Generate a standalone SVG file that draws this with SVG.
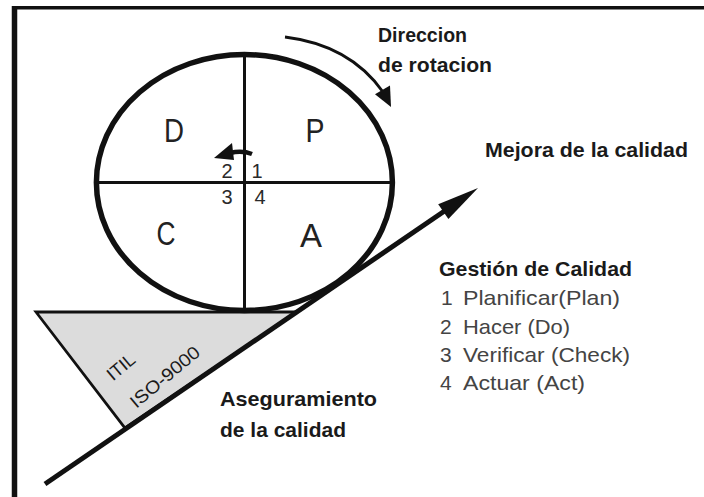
<svg xmlns="http://www.w3.org/2000/svg" width="704" height="497" viewBox="0 0 704 497">
  <style>
    .t { font-family: "Liberation Sans", Arial, sans-serif; fill: #1a1a1a; }
    .b { font-weight: bold; }
    .big { font-size: 33px; text-anchor: middle; fill: #222; }
    .num { font-size: 20px; text-anchor: middle; fill: #2a2a2a; }
    .lab { font-size: 21px; }
    .list { font-size: 21px; fill: #444; }
    .ln { stroke: #111; fill: none; }
  </style>
  <rect width="704" height="497" fill="#ffffff"/>
  <g id="frame">
    <line x1="12" y1="7.7" x2="704" y2="7.7" stroke="#111" stroke-width="3.5"/>
    <line x1="14.5" y1="6" x2="14.5" y2="497" stroke="#111" stroke-width="5.5"/>
  </g>
  <g id="triangle">
    <polygon points="36,312 297,312 125,428" fill="#dcdcdc" stroke="#111" stroke-width="2.8" stroke-linejoin="miter"/>
    <text class="t" font-size="18" fill="#333" text-anchor="middle" transform="translate(121,367) rotate(-40)" y="6">ITIL</text>
    <text class="t" font-size="18" fill="#333" text-anchor="middle" textLength="85" lengthAdjust="spacingAndGlyphs" transform="translate(165,377) rotate(-40)" y="6">ISO-9000</text>
  </g>
  <g id="circle">
    <ellipse cx="244.4" cy="182.5" rx="148" ry="128" class="ln" stroke-width="5.5"/>
    <line x1="244.5" y1="54" x2="244.5" y2="311" class="ln" stroke-width="3"/>
    <line x1="96" y1="182.5" x2="393" y2="182.5" class="ln" stroke-width="3"/>
    <text class="t big" x="174" y="142" textLength="20" lengthAdjust="spacingAndGlyphs">D</text>
    <text class="t big" x="315" y="142" textLength="19" lengthAdjust="spacingAndGlyphs">P</text>
    <text class="t big" x="166" y="245" textLength="19" lengthAdjust="spacingAndGlyphs">C</text>
    <text class="t big" x="311" y="247" textLength="22" lengthAdjust="spacingAndGlyphs">A</text>
    <text class="t num" x="227" y="178">2</text>
    <text class="t num" x="257" y="178">1</text>
    <text class="t num" x="227" y="204">3</text>
    <text class="t num" x="260" y="204">4</text>
  </g>
  <g id="connectors">
    <line x1="45" y1="484" x2="446" y2="210" stroke="#111" stroke-width="5"/>
    <polygon points="478,188 448.4,219 438.2,204.2" fill="#111"/>
    <path d="M285,37 Q350,45 383,92" class="ln" stroke-width="2.8"/>
    <polygon points="391,107 375,94.3 390,85.5" fill="#111"/>
    <path d="M252,154 Q242,150 230,153" stroke="#111" stroke-width="4.5" fill="none"/>
    <polygon points="214,158 232,143 234,160" fill="#111"/>
  </g>
  <g id="labels">
    <text class="t b lab" x="378" y="42" textLength="89" lengthAdjust="spacingAndGlyphs">Direccion</text>
    <text class="t b lab" x="378" y="72" textLength="114" lengthAdjust="spacingAndGlyphs">de rotacion</text>
    <text class="t b lab" x="485" y="157" textLength="203" lengthAdjust="spacingAndGlyphs">Mejora de la calidad</text>
    <text class="t b lab" x="220" y="406" textLength="157" lengthAdjust="spacingAndGlyphs">Aseguramiento</text>
    <text class="t b lab" x="220" y="437" textLength="126" lengthAdjust="spacingAndGlyphs">de la calidad</text>
  </g>
  <g id="legend">
    <text class="t b lab" x="439" y="276" textLength="193" lengthAdjust="spacingAndGlyphs">Gestión de Calidad</text>
    <text class="t list" x="441" y="305">1</text>
    <text class="t list" x="463" y="305" textLength="157" lengthAdjust="spacingAndGlyphs">Planificar(Plan)</text>
    <text class="t list" x="440" y="334">2</text>
    <text class="t list" x="463" y="334" textLength="107" lengthAdjust="spacingAndGlyphs">Hacer (Do)</text>
    <text class="t list" x="440" y="362">3</text>
    <text class="t list" x="463" y="362" textLength="167" lengthAdjust="spacingAndGlyphs">Verificar (Check)</text>
    <text class="t list" x="440" y="390">4</text>
    <text class="t list" x="463" y="390" textLength="122" lengthAdjust="spacingAndGlyphs">Actuar (Act)</text>
  </g>
</svg>
